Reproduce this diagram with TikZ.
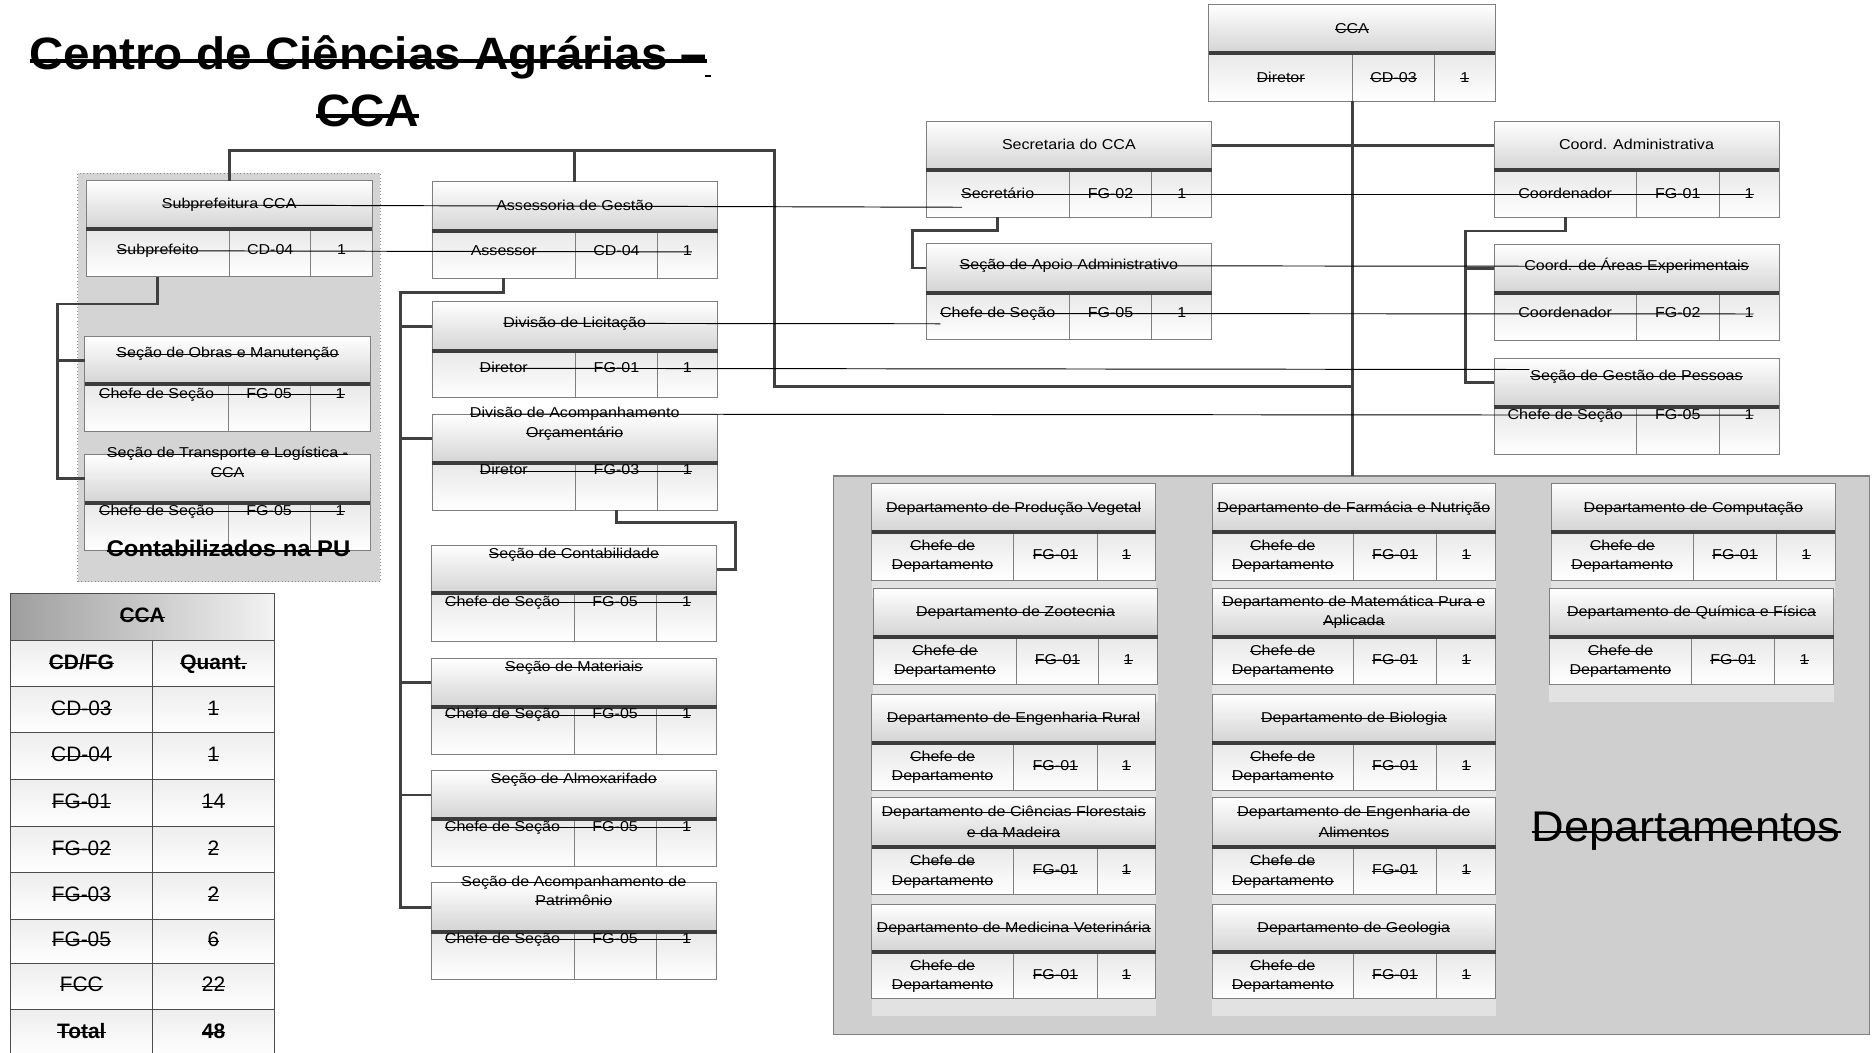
\documentclass[tikz,border=0pt]{standalone}
\usepackage{fontspec}
\setmainfont{Liberation Sans}
\newfontfamily\smf{Liberation Sans}[FakeStretch=1.12]
\newfontfamily\tlf{Liberation Sans}[FakeStretch=1.05]
\newfontfamily\tbf{Liberation Sans}
\definecolor{connc}{HTML}{404040}
\definecolor{sepc}{HTML}{3C3C3C}
\definecolor{bordc}{HTML}{7F7F7F}
\tikzset{
 tx/.style={font=\smf\fontsize{12}{14}\selectfont, inner sep=0pt, outer sep=0pt, text height=8.6pt, text depth=2.2pt},
 strk/.style={draw=black, line width=0.8pt},
 tstrk/.style={draw=black, line width=2.8pt},
 hdr/.style={draw=bordc, line width=0.7pt, inner sep=0pt, outer sep=0pt, anchor=north west, top color=white, bottom color=black!17},
 cell/.style={draw=bordc, line width=0.7pt, inner sep=0pt, outer sep=0pt, anchor=north west, top color=black!9, bottom color=white},
 sepl/.style={draw=sepc, line width=3.4pt},
 conn/.style={draw=connc, line width=2.4pt},
 ttl/.style={font=\tlf\bfseries\fontsize{38}{44}\selectfont, inner sep=0pt, outer sep=0pt, anchor=base},
 thdr/.style={draw=black!70, line width=0.8pt, inner sep=0pt, outer sep=0pt, anchor=north west, left color=black!38, right color=black!5},
 tcell/.style={draw=black!70, line width=0.8pt, inner sep=0pt, outer sep=0pt, anchor=north west, top color=black!7, bottom color=white},
 tbt/.style={font=\tbf\fontsize{17.5}{20}\selectfont, text height=12.6pt, text depth=3.4pt},
 panelbox/.style={draw=black!50, fill=black!19, line width=0.9pt, inner sep=0pt, outer sep=0pt, anchor=north west},
 grpbox/.style={draw=black!45, fill=black!17, dotted, line width=0.8pt, inner sep=0pt, outer sep=0pt, anchor=north west},
}
% box: name, x1, x2, top, sep, bottom, split1, split2
\newcommand\obox[8]{%
 \node[hdr, minimum width={(#3-#2)*1pt}, minimum height={(#5-#4)*1pt}] (#1) at (#2,#4) {};
 \node[cell, minimum width={(#7-#2)*1pt}, minimum height={(#6-#5)*1pt}] (#1-a) at (#2,#5) {};
 \node[cell, minimum width={(#8-#7)*1pt}, minimum height={(#6-#5)*1pt}] (#1-b) at (#7,#5) {};
 \node[cell, minimum width={(#3-#8)*1pt}, minimum height={(#6-#5)*1pt}] (#1-c) at (#8,#5) {};
 \draw[sepl] (#1.south west) -- (#1.south east);
}
\newcommand\tx[4][]{\node[tx,#1] (#2) at (#3) {#4};}
\newcommand\stx[4][]{\node[tx,#1] (#2) at (#3) {#4}; \draw[strk] (#2.west) -- (#2.east);}
\newcommand\rowtx[5]{%
 \node[tx] (#1-r1) at (#1-a |- 0,#2) {#3};
 \node[tx] (#1-r2) at (#1-b |- 0,#2) {#4};
 \node[tx] (#1-r3) at (#1-c |- 0,#2) {#5};}
\newcommand\rowst[5]{\rowtx{#1}{#2}{#3}{#4}{#5}\draw[strk] (#1-r1.west) -- (#1-r3.east);}
\newcommand\dbox[8]{%
 \fill[white, opacity=0.4] (#2,#6) rectangle (#3,#6+15);
 \obox{#1}{#2}{#3}{#4}{#5}{#6}{#7}{#8}
 \stx{#1-r1a}{#1-a |- 0,#5+12.3}{Chefe de}
 \stx{#1-r1b}{#1-a |- 0,#5+28.5}{Departamento}
 \stx{#1-r2}{#1-b |- 0,#5+20}{FG-01}
 \stx{#1-r3}{#1-c |- 0,#5+20}{1}}
\newcommand\trow[5]{%
 \node[tcell, minimum width=119.5pt, minimum height={(#3-#2)*1pt}] (tb#1a) at (8.4,#2) {};
 \node[tcell, minimum width=101.9pt, minimum height={(#3-#2)*1pt}] (tb#1b) at (127.9,#2) {};
 \stx[tbt]{tb#1at}{tb#1a}{#4}
 \stx[tbt]{tb#1bt}{tb#1b}{#5}}
\newlength\secw
\begin{document}
\begin{tikzpicture}[x=1pt,y=-1pt]
\useasboundingbox (0,0) rectangle (1568,882);
\fill[white] (0,0) rectangle (1568,882);

% title
\node[ttl] (title1) at (308.6,58.6) {Centro de Ciências Agrárias –};
\node[ttl] (title2) at (308,105.6) {CCA};
\draw[tstrk] ([yshift=7.5pt]title1.base west) -- ([yshift=7.5pt]title1.base east);
\draw[tstrk] ([yshift=8.5pt]title2.base west) -- ([yshift=8.5pt]title2.base east);
\coordinate (dsh) at (590.5,63.7);
\draw[line width=1.5pt] (dsh) -- ++(5,0);

% group and panel
\node[grpbox, minimum width=253.1pt, minimum height=342pt] (pu) at (65.2,145.2) {};
\node[panelbox, minimum width=868pt, minimum height=468pt] (dpanel) at (698,398.7) {};

% boxes
\obox{cca}{1012.4}{1252.4}{3.9}{44.7}{84.6}{1133}{1201.5}
\obox{sec}{775.6}{1015}{101.3}{142.4}{182}{895.7}{964.7}
\obox{cad}{1251.3}{1490.2}{101.3}{142.4}{182}{1370.7}{1439.9}
\obox{apo}{775.6}{1015}{203.8}{245.1}{284.2}{895.7}{964.7}
\obox{are}{1251.3}{1490.2}{204.7}{245.7}{285.3}{1370.7}{1439.9}
\obox{gp}{1251.3}{1490.2}{300.1}{340.6}{380.3}{1370.7}{1439.9}
\obox{sub}{72}{312}{151.3}{191.8}{231.7}{192.3}{260.4}
\obox{obr}{70.9}{310.2}{282}{321.9}{361.6}{191.2}{259.7}
\obox{tra}{70.9}{310.2}{380.5}{421}{460.7}{191.2}{259.7}
\obox{ass}{361.8}{601}{152.2}{193.2}{233.1}{482.1}{550.6}
\obox{lic}{361.8}{601}{252.7}{293.7}{333.1}{482.1}{550.6}
\obox{aco}{361.8}{601}{346.8}{388.1}{427.2}{482.1}{550.6}
\obox{cont}{361}{600.3}{456.5}{497}{536.9}{480.8}{549.7}
\obox{mat}{361}{600.3}{551.4}{591.9}{631.8}{480.8}{549.7}
\obox{alm}{361}{600.3}{645.5}{686.3}{725.9}{480.8}{549.7}
\obox{pat}{361}{600.3}{739.3}{780.4}{820}{480.8}{549.7}

% texts of the boxes
\stx{cca-t}{cca |- 0,25}{CCA}
\stx{cca-r1}{cca-a |- 0,65.6}{Diretor}
\stx{cca-r2}{cca-b |- 0,65.6}{CD-03}
\stx{cca-r3}{cca-c |- 0,65.6}{1}

\settowidth\secw{\smf\fontsize{12}{14}\selectfont Secretaria}
\tx{sec-t}{sec |- 0,122}{Secretaria do CCA}
\draw[strk] (sec-t.west) -- ++(\secw,0);
\rowtx{sec}{163}{Secretário}{FG-02}{1}

\tx{cad-t}{cad |- 0,122}{Coord. Administrativa}
\rowtx{cad}{163}{Coordenador}{FG-01}{1}

\tx{apo-t}{apo |- 0,222.5}{Seção de Apoio Administrativo}
\rowtx{apo}{262.6}{Chefe de Seção}{FG-05}{1}

\tx{are-t}{are |- 0,223.2}{Coord. de Áreas Experimentais}
\rowtx{are}{263}{Coordenador}{FG-02}{1}

\stx{gp-t}{gp |- 0,315.5}{Seção de Gestão de Pessoas}
\rowtx{gp}{347.8}{Chefe de Seção}{FG-05}{1}

\tx{sub-t}{sub |- 0,171.7}{Subprefeitura CCA}
\rowtx{sub}{210}{Subprefeito}{CD-04}{1}

\tx{ass-t}{ass |- 0,173}{Assessoria de Gestão}
\rowtx{ass}{211}{Assessor}{CD-04}{1}

\stx{obr-t}{obr |- 0,296.5}{Seção de Obras e Manutenção}
\rowst{obr}{330.3}{Chefe de Seção}{FG-05}{1}

\stx{tra-t1}{tra |- 0,380.3}{Seção de Transporte e Logística -}
\stx{tra-t2}{tra |- 0,396.5}{CCA}
\rowst{tra}{428.6}{Chefe de Seção}{FG-05}{1}

\tx{lic-t}{lic |- 0,270.8}{Divisão de Licitação}
\rowtx{lic}{308.5}{Diretor}{FG-01}{1}

\tx{aco-t1}{aco |- 0,346.8}{Divisão de Acompanhamento}
\stx{aco-t2}{aco |- 0,363}{Orçamentário}
\rowst{aco}{394.5}{Diretor}{FG-03}{1}

\stx{cont-t}{cont |- 0,464.3}{Seção de Contabilidade}
\rowst{cont}{504.8}{Chefe de Seção}{FG-05}{1}
\stx{mat-t}{mat |- 0,559}{Seção de Materiais}
\rowst{mat}{598.9}{Chefe de Seção}{FG-05}{1}
\stx{alm-t}{alm |- 0,652.8}{Seção de Almoxarifado}
\rowst{alm}{693}{Chefe de Seção}{FG-05}{1}
\stx{pat-t1}{pat |- 0,739.3}{Seção de Acompanhamento de}
\stx{pat-t2}{pat |- 0,755.2}{Patrimônio}
\rowst{pat}{786.8}{Chefe de Seção}{FG-05}{1}

% Contabilizados na PU
\node[font=\tlf\bfseries\fontsize{19}{22}\selectfont, inner sep=0pt, anchor=base] (putx) at (191.4,466.3) {Contabilizados na PU};
\draw[draw=black, line width=1.6pt] ([yshift=4.5pt]putx.base west) -- ([yshift=4.5pt]putx.base east);

% departments
\dbox{d1}{730}{968}{405}{445.3}{485.8}{849}{919}
\stx{d1-t}{d1 |- 0,425.8}{Departamento de Produção Vegetal}
\dbox{d2}{731.5}{969.7}{492.8}{533.3}{573}{851.5}{920.2}
\stx{d2-t}{d2 |- 0,513}{Departamento de Zootecnia}
\dbox{d3}{730}{968}{581.6}{622}{662.3}{849}{919}
\stx{d3-t}{d3 |- 0,602}{Departamento de Engenharia Rural}
\dbox{d4}{730}{968}{667.8}{709.7}{749}{849}{919}
\stx{d4-t1}{d4 |- 0,680.7}{Departamento de Ciências Florestais}
\stx{d4-t2}{d4 |- 0,698}{e da Madeira}
\dbox{d5}{730}{968}{757.2}{797.1}{836.2}{849}{919}
\stx{d5-t}{d5 |- 0,777.5}{Departamento de Medicina Veterinária}

\dbox{e1}{1015.2}{1252.7}{405}{445.3}{485.8}{1133.6}{1203.2}
\stx{e1-t}{e1 |- 0,425.8}{Departamento de Farmácia e Nutrição}
\dbox{e2}{1015.2}{1252.7}{492.8}{533.3}{573}{1133.6}{1203.2}
\stx{e2-t1}{e2 |- 0,505}{Departamento de Matemática Pura e}
\stx{e2-t2}{e2 |- 0,521}{Aplicada}
\dbox{e3}{1015.2}{1252.7}{581.6}{622}{662.3}{1133.6}{1203.2}
\stx{e3-t}{e3 |- 0,602}{Departamento de Biologia}
\dbox{e4}{1015.2}{1252.7}{667.8}{709.7}{749}{1133.6}{1203.2}
\stx{e4-t1}{e4 |- 0,680.7}{Departamento de Engenharia de}
\stx{e4-t2}{e4 |- 0,698}{Alimentos}
\dbox{e5}{1015.2}{1252.7}{757.2}{797.1}{836.2}{1133.6}{1203.2}
\stx{e5-t}{e5 |- 0,777.5}{Departamento de Geologia}

\dbox{f1}{1299.5}{1537.3}{405}{445.3}{485.8}{1418.2}{1488.2}
\stx{f1-t}{f1 |- 0,425.8}{Departamento de Computação}
\dbox{f2}{1297.8}{1535.9}{492.8}{533.3}{573}{1416.8}{1486.5}
\stx{f2-t}{f2 |- 0,513}{Departamento de Química e Física}

\node[font=\tlf\fontsize{36}{40}\selectfont, inner sep=0pt, anchor=base] (dpt) at (1412.3,705) {Departamentos};
\draw[draw=black, line width=1.8pt] ([yshift=8.4pt]dpt.base west) -- ([yshift=8.4pt]dpt.base east);

% table
\node[thdr, minimum width=221.4pt, minimum height=39.1pt] (tbh) at (8.4,497.5) {};
\stx[tbt]{tbht}{tbh}{\bfseries CCA}
\trow{1}{536.6}{575.2}{\bfseries CD/FG}{\bfseries Quant.}
\trow{2}{575.2}{613.7}{CD-03}{1}
\trow{3}{613.7}{652.8}{CD-04}{1}
\trow{4}{652.8}{692.4}{FG-01}{14}
\trow{5}{692.4}{731}{FG-02}{2}
\trow{6}{731}{770}{FG-03}{2}
\trow{7}{770}{806.9}{FG-05}{6}
\trow{8}{806.9}{845.4}{FCC}{22}
\trow{9}{845.4}{885}{\bfseries Total}{\bfseries 48}

% connectors
\coordinate (j0) at (649,125.8);
\coordinate (j1) at (649,324);
\draw[conn] (sub.north) |- (j0) -- (j1) -- (j1 -| cca-a.south east);
\draw[conn] (ass.north) -- (ass.north |- j0);
\draw[conn] (cca-a.south east) -- (cca-a.south east |- dpanel.north);
\draw[conn] (sec.east) -- (cad.west);
\coordinate (k1) at (764.2,193.2);
\draw[conn] (sec-a.south) |- (k1) |- (apo.west);
\coordinate (k2) at (1227.4,193.5);
\draw[conn] (cad-a.south) |- (k2) |- (gp.west);
\draw[conn] (k2 |- are.west) -- (are.west);
\coordinate (k3) at (48,254.6);
\draw[conn] (sub-a.south) |- (k3) |- (tra.west);
\draw[conn] (k3 |- obr.west) -- (obr.west);
\coordinate (k4) at (335.5,244.9);
\draw[conn] (ass-a.south) |- (k4) |- (pat.west);
\foreach \n in {lic,aco,mat,alm} {\draw[conn] (k4 |- \n.west) -- (\n.west);}
\coordinate (k5) at (616,438);
\draw[conn] (aco-b.south) |- (k5) |- (cont.east);

% long strike lines
\coordinate (e1x) at (805.8,173.6);
\draw[strk] (sub-t.west) -- (e1x);
\draw[strk] (sub-r1.west) -- (ass-r3.east);
\coordinate (e3x) at (787.6,271.2);
\draw[strk] (lic-t.west) -- (e3x);
\coordinate (e4x) at (1281,309.5);
\draw[strk] (lic-r1.west) -- (e4x);
\draw[strk] (aco-t1.west) -- (gp-r3.east);
\draw[strk] (sec-r1.west) -- (cad-r3.east);
\draw[strk] (apo-t.west) -- (are-t.east);
\draw[strk] (apo-r1.west) -- (are-r3.east);
\end{tikzpicture}
\end{document}
